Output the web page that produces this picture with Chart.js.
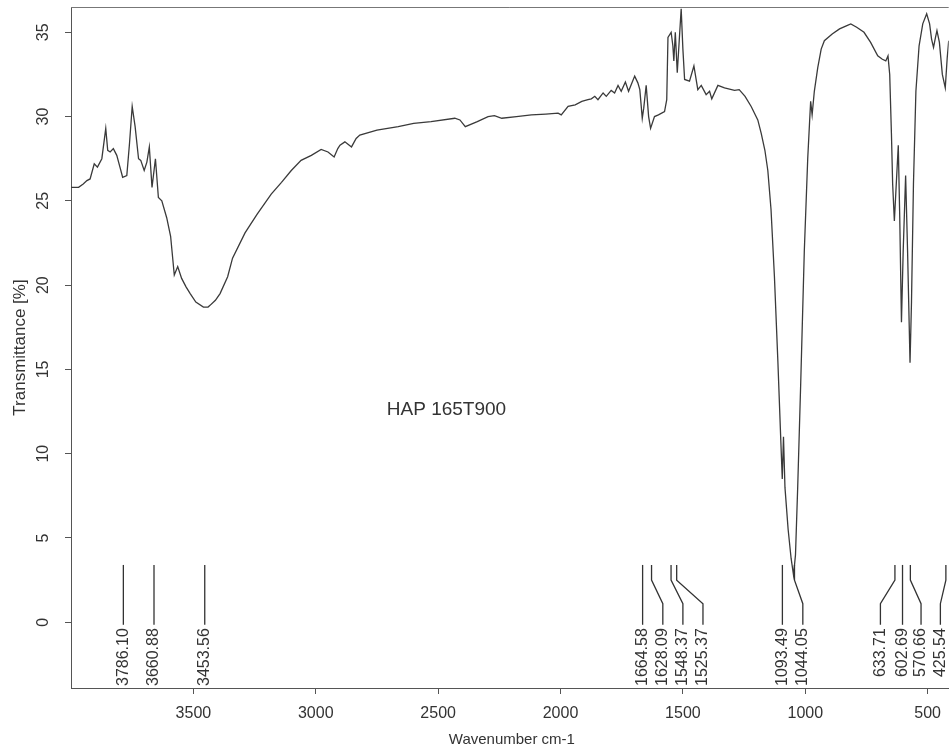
<!DOCTYPE html>
<html lang="en">
<head>
    <meta charset="UTF-8">
    <title>HAP 165T900 - FTIR</title>
    <script src="https://cdn.jsdelivr.net/npm/chart.js"></script>
    <style>
        body, html { margin: 0; padding: 0; background: #fff; overflow: hidden; }
        #chart { display: block; }
    </style>
</head>
<body>
    <canvas id="chart" width="951" height="753"></canvas>
    <script>
        // spectrum (wavenumber cm-1 / transmittance %)
        var wavenumbers = [
            4000, 3969, 3950, 3935, 3922, 3905, 3892, 3874, 3858, 3850, 3840, 3827, 3813, 3800, 3789, 3772,
            3761, 3750, 3738, 3724, 3715, 3701, 3690, 3680, 3669, 3655, 3643, 3629, 3609, 3593, 3578, 3564,
            3548, 3530, 3513, 3490, 3459, 3440, 3432, 3410, 3391, 3360, 3340, 3289, 3240, 3182, 3140, 3100,
            3060, 3018, 2978, 2950, 2925, 2910, 2901, 2881, 2854, 2835, 2820, 2750, 2663, 2600, 2529, 2432,
            2411, 2389, 2340, 2296, 2270, 2240, 2180, 2119, 2060, 2010, 1997, 1969, 1940, 1913, 1888, 1874,
            1860, 1847, 1826, 1813, 1793, 1779, 1765, 1752, 1735, 1722, 1697, 1684, 1676, 1666, 1660, 1650,
            1640, 1632, 1616, 1600, 1575, 1566, 1561, 1548, 1541, 1537, 1531, 1523, 1515, 1507, 1500, 1493,
            1473, 1455, 1439, 1425, 1405, 1391, 1382, 1357, 1330, 1289, 1270, 1246, 1221, 1194, 1180, 1165,
            1153, 1140, 1126, 1112, 1100, 1094, 1089, 1083, 1070, 1058, 1048, 1040, 1031, 1019, 1004, 990,
            982, 978, 972, 963, 949, 935, 922, 890, 860, 830, 814, 790, 760, 733, 704, 685,
            671, 662, 655, 648, 643, 636, 630, 620, 614, 607, 600, 590, 582, 572, 566, 558,
            548, 535, 520, 504, 492, 484, 476, 468, 462, 452, 440, 428, 420, 414
        ];
        var transmittance = [
            25.8, 25.8, 26.0, 26.2, 26.3, 27.2, 27.0, 27.5, 29.3, 28.0, 27.9, 28.1, 27.7, 27.0, 26.4, 26.5,
            28.4, 30.6, 29.4, 27.5, 27.4, 26.8, 27.3, 28.2, 25.8, 27.5, 25.2, 25.0, 24.0, 22.9, 20.6, 21.1,
            20.4, 19.9, 19.5, 19.0, 18.7, 18.7, 18.8, 19.1, 19.5, 20.5, 21.6, 23.1, 24.2, 25.4, 26.1, 26.8,
            27.4, 27.7, 28.05, 27.9, 27.6, 28.1, 28.3, 28.5, 28.2, 28.7, 28.9, 29.2, 29.4, 29.6, 29.7, 29.9,
            29.8, 29.4, 29.7, 30.0, 30.05, 29.9, 30.0, 30.1, 30.15, 30.2, 30.1, 30.6, 30.7, 30.9, 31.0, 31.05,
            31.2, 31.0, 31.4, 31.2, 31.55, 31.4, 31.85, 31.5, 32.05, 31.5, 32.4, 32.0, 31.6, 29.9, 30.5, 31.85,
            30.0, 29.3, 30.0, 30.1, 30.3, 31.0, 34.7, 35.0, 34.2, 33.3, 35.0, 32.6, 34.5, 36.4, 34.0, 32.2,
            32.1, 33.0, 31.6, 31.85, 31.3, 31.5, 31.05, 31.85, 31.7, 31.55, 31.6, 31.2, 30.6, 29.8, 29.0, 28.0,
            26.8, 24.5, 20.5, 15.5, 10.8, 8.5, 11.0, 8.0, 5.5, 3.8, 2.8, 4.0, 8.0, 14.0, 22.0, 27.5,
            29.8, 30.9, 30.1, 31.5, 32.9, 34.0, 34.5, 34.9, 35.2, 35.4, 35.5, 35.3, 35.0, 34.4, 33.6, 33.4,
            33.3, 33.6, 32.5, 29.0, 26.0, 23.8, 25.5, 28.3, 24.0, 17.8, 22.0, 26.5, 22.0, 15.4, 19.0, 26.0,
            31.5, 34.2, 35.5, 36.1, 35.5, 34.6, 34.1, 34.7, 35.1, 34.4, 32.5, 31.7, 33.5, 34.5
        ];

        // peak picks: where the line starts, where its label sits, label text
        var peakPositions = [3786.10, 3660.88, 3453.56, 1664.58, 1628.09, 1548.37, 1525.37, 1093.49, 1044.05, 633.71, 602.69, 570.66, 425.54];
        var peakLabelPositions = [3786.10, 3660.88, 3453.56, 1664.58, 1582, 1500, 1418, 1093.49, 1010, 693, 602.69, 527, 448];
        var peakLabels = ['3786.10', '3660.88', '3453.56', '1664.58', '1628.09', '1548.37', '1525.37', '1093.49', '1044.05', '633.71', '602.69', '570.66', '425.54'];

        var xTicks = [3500, 3000, 2500, 2000, 1500, 1000, 500];
        var yTicks = [0, 5, 10, 15, 20, 25, 30, 35];

        var sampleName = 'HAP 165T900';
        var sampleNameAt = { x: 2466, y: 12.6 };

        var ink = '#333';
        var fontFamily = '"Liberation Sans", Arial, sans-serif';

        var spectrumPoints = wavenumbers.map(function(w, i) { return { x: w, y: transmittance[i] }; });

        var decorations = {
            id: 'decorations',
            afterDatasetsDraw: function(chart) {
                var ctx = chart.ctx;
                var xs = chart.scales.x;
                var ys = chart.scales.y;
                var area = chart.chartArea;

                ctx.save();
                // top frame line
                ctx.strokeStyle = '#777';
                ctx.lineWidth = 1;
                ctx.beginPath();
                ctx.moveTo(area.left, area.top + 0.5);
                ctx.lineTo(area.right, area.top + 0.5);
                ctx.stroke();

                // peak marker lines
                var yTop = ys.getPixelForValue(3.4);
                var yB1 = ys.getPixelForValue(2.5);
                var yB2 = ys.getPixelForValue(1.1);
                var yBot = ys.getPixelForValue(-0.15);
                ctx.strokeStyle = ink;
                ctx.lineWidth = 1.3;
                peakPositions.forEach(function(p, i) {
                    var x0 = xs.getPixelForValue(p);
                    var x1 = xs.getPixelForValue(peakLabelPositions[i]);
                    ctx.beginPath();
                    ctx.moveTo(x0, yTop);
                    ctx.lineTo(x0, yB1);
                    ctx.lineTo(x1, yB2);
                    ctx.lineTo(x1, yBot);
                    ctx.stroke();
                });

                // peak labels (rotated)
                ctx.fillStyle = ink;
                ctx.font = '16px ' + fontFamily;
                ctx.textAlign = 'right';
                ctx.textBaseline = 'middle';
                var yLab = ys.getPixelForValue(-0.35);
                peakLabelPositions.forEach(function(p, i) {
                    ctx.save();
                    ctx.translate(xs.getPixelForValue(p), yLab);
                    ctx.rotate(-Math.PI / 2);
                    ctx.fillText(peakLabels[i], 0, 0);
                    ctx.restore();
                });

                // y tick labels, R style (rotated)
                ctx.textAlign = 'center';
                yTicks.forEach(function(v) {
                    ctx.save();
                    ctx.translate(44, ys.getPixelForValue(v));
                    ctx.rotate(-Math.PI / 2);
                    ctx.fillText(String(v), 0, 0);
                    ctx.restore();
                });

                // axis titles
                ctx.font = '17px ' + fontFamily;
                ctx.save();
                ctx.translate(20, (area.top + area.bottom) / 2);
                ctx.rotate(-Math.PI / 2);
                ctx.fillText('Transmittance [%]', 0, 0);
                ctx.restore();

                ctx.font = '15px ' + fontFamily;
                ctx.fillText('Wavenumber cm-1', (area.left + area.right) / 2 + 2, 740);

                // sample name
                ctx.font = '19px ' + fontFamily;
                ctx.fillText(sampleName, xs.getPixelForValue(sampleNameAt.x), ys.getPixelForValue(sampleNameAt.y));
                ctx.restore();
            }
        };

        var chart = new Chart(document.getElementById('chart').getContext('2d'), {
            type: 'line',
            data: {
                datasets: [{
                    label: sampleName,
                    data: spectrumPoints,
                    borderColor: '#3a3a3a',
                    borderWidth: 1.3,
                    pointRadius: 0,
                    tension: 0,
                    fill: false
                }]
            },
            options: {
                responsive: false,
                animation: false,
                layout: { padding: { top: 7, right: 0, left: 0, bottom: 0 } },
                plugins: {
                    legend: { display: false },
                    tooltip: { enabled: false }
                },
                scales: {
                    x: {
                        type: 'linear',
                        reverse: true,
                        min: 414,
                        max: 4000,
                        afterBuildTicks: function(s) { s.ticks = xTicks.map(function(v) { return { value: v }; }); },
                        afterFit: function(s) { s.height = 65; },
                        ticks: {
                            color: ink,
                            font: { family: fontFamily, size: 16 },
                            padding: 10,
                            maxRotation: 0,
                            minRotation: 0,
                            callback: function(v) { return String(v); }
                        },
                        grid: { drawOnChartArea: false, tickLength: 6, color: '#555' },
                        border: { color: '#555', width: 1 }
                    },
                    y: {
                        type: 'linear',
                        min: -3.9,
                        max: 36.5,
                        afterBuildTicks: function(s) { s.ticks = yTicks.map(function(v) { return { value: v }; }); },
                        afterFit: function(s) { s.width = 71; },
                        ticks: { display: false },
                        grid: { drawOnChartArea: false, tickLength: 6, color: '#555' },
                        border: { color: '#555', width: 1 }
                    }
                }
            },
            plugins: [decorations]
        });
    </script>
</body>
</html>
